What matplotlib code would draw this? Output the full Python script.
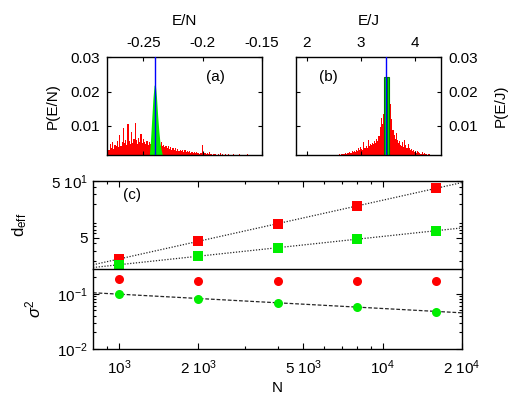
import matplotlib
matplotlib.use("Agg")
import matplotlib.pyplot as plt
import numpy as np
from matplotlib.ticker import FixedLocator, NullFormatter, LogLocator, FixedFormatter

plt.rcParams['font.family'] = ['Liberation Sans', 'DejaVu Sans']
plt.rcParams['mathtext.fontset'] = 'custom'
plt.rcParams['mathtext.rm'] = 'Liberation Sans'
plt.rcParams['mathtext.it'] = 'Liberation Sans:italic'
plt.rcParams['font.size'] = 11

# ---- panel (a): P(E/N) ----
en_start, en_bin = -0.280, 0.001
red_a = [0.0042, 0.0030, 0.0048, 0.0036, 0.0052, 0.0033, 0.0045, 0.0040, 0.0055, 0.0038,
         0.0072, 0.0041, 0.0052, 0.0095, 0.0049, 0.0060, 0.0044, 0.0105, 0.0056, 0.0047,
         0.0082, 0.0050, 0.0063, 0.0109, 0.0058, 0.0046, 0.0066, 0.0052, 0.0076, 0.0049,
         0.0061, 0.0054, 0.0048, 0.0057, 0.0045, 0.0052, 0.0047, 0.0050, 0.0044, 0.0046,
         0.0043, 0.0048, 0.0041, 0.0045, 0.0039, 0.0052, 0.0040, 0.0044, 0.0037, 0.0041,
         0.0036, 0.0042, 0.0033, 0.0038, 0.0031, 0.0035, 0.0029, 0.0034, 0.0028, 0.0032,
         0.0027, 0.0031, 0.0026, 0.0030, 0.0025, 0.0029, 0.0024, 0.0027, 0.0023, 0.0026,
         0.0022, 0.0025, 0.0021, 0.0024, 0.0020, 0.0023, 0.0021, 0.0019, 0.0022, 0.0020,
         0.0045, 0.0019, 0.0021, 0.0018, 0.0020, 0.0017, 0.0024, 0.0018, 0.0016, 0.0019,
         0.0017, 0.0019, 0.0016, 0.0018, 0.0015, 0.0021, 0.0016, 0.0017, 0.0015, 0.0018,
         0.0016, 0.0015, 0.0018, 0.0014, 0.0016, 0.0015, 0.0019, 0.0014, 0.0015, 0.0016,
         0.0014, 0.0017, 0.0015, 0.0014, 0.0016, 0.0013, 0.0015, 0.0014, 0.0018, 0.0013,
         0.0014, 0.0013, 0.0015, 0.0012, 0.0014, 0.0013, 0.0012, 0.0014, 0.0013, 0.0012]
green_a_start = -0.245
green_a = [0.0015, 0.006, 0.012, 0.018, 0.0218, 0.0222, 0.0185, 0.013, 0.0085, 0.005, 0.003, 0.0015]
mean_a = -0.2401

# ---- panel (b): P(E/J) ----
ej_start, ej_bin = 2.50, 0.02
red_b = [0.0012, 0.0014, 0.0013, 0.0016, 0.0015, 0.0017, 0.0016, 0.0018, 0.0017, 0.0019,
         0.0018, 0.0021, 0.0019, 0.0022, 0.0020, 0.0024, 0.0022, 0.0026, 0.0023, 0.0027,
         0.0025, 0.0029, 0.0027, 0.0034, 0.0030, 0.0038, 0.0033, 0.0029, 0.0052, 0.0036,
         0.0041, 0.0035, 0.0059, 0.0040, 0.0047, 0.0044, 0.0051, 0.0046, 0.0057, 0.0050,
         0.0062, 0.0055, 0.0071, 0.0098, 0.0124, 0.0105, 0.0135, 0.0118, 0.0110, 0.0090,
         0.0115, 0.0108, 0.0092, 0.0164, 0.0120, 0.0088, 0.0074, 0.0062, 0.0079, 0.0058,
         0.0050, 0.0056, 0.0045, 0.0041, 0.0052, 0.0038, 0.0059, 0.0043, 0.0035, 0.0047,
         0.0036, 0.0030, 0.0033, 0.0027, 0.0031, 0.0025, 0.0028, 0.0022, 0.0026, 0.0024,
         0.0021, 0.0019, 0.0023, 0.0018, 0.0020, 0.0017, 0.0019, 0.0016, 0.0018, 0.0017,
         0.0015, 0.0016, 0.0014, 0.0015, 0.0013, 0.0015, 0.0012, 0.0014, 0.0013, 0.0012]
green_b_left = [3.43, 3.48]
green_b_width = 0.05
green_b = [0.0242, 0.0242]
mean_b = 3.47

# ---- panel (c) ----
N = [1000, 2000, 4000, 8000, 16000]
deff_red = [2.11, 4.48, 8.75, 18.2, 37.5]
deff_green = [1.67, 2.44, 3.31, 4.80, 6.67]
sig_red = [0.187, 0.174, 0.172, 0.172, 0.172]
sig_green = [0.0988, 0.082, 0.0697, 0.0575, 0.0479]

RED = '#ff0000'
GREEN = '#00ee00'

fig = plt.figure(figsize=(5.18, 3.96), dpi=100)

def hist_axes(rect):
    ax = fig.add_axes(rect)
    ax.set_ylim(0.0015, 0.03)
    ax.set_yticks([0.01, 0.02, 0.03])
    ax.set_yticklabels(['0.01', '0.02', '0.03'])
    ax.xaxis.set_label_position('top')
    ax.tick_params(direction='in', top=True, bottom=True, left=True, right=True,
                   labeltop=True, labelbottom=False, length=3, width=0.8, pad=5)
    for s in ax.spines.values():
        s.set_linewidth(1.0)
    return ax

# (a)
ax = hist_axes([0.2071, 0.6086, 0.2986, 0.2467])
xa = en_start + en_bin * np.arange(len(red_a))
ax.bar(xa, red_a, width=en_bin, color=RED, linewidth=0, zorder=1)
xg = green_a_start + en_bin * np.arange(len(green_a))
ax.fill_between(xg, 0, green_a, color=GREEN, linewidth=0, zorder=2)
ax.axvline(mean_a, color='blue', lw=1.0, zorder=3)
ax.set_xlim(-0.2805, -0.15)
ax.set_xticks([-0.25, -0.2, -0.15])
ax.set_xticklabels(['-0.25', '-0.2', '-0.15'])
ax.set_xlabel('E/N', labelpad=8)
ax.set_ylabel('P(E/N)', labelpad=8)
ax.text(0.64, 0.76, '(a)', transform=ax.transAxes, fontsize=11)

# (b)
ax = hist_axes([0.5714, 0.6086, 0.2799, 0.2467])
xb = ej_start + ej_bin * np.arange(len(red_b))
ax.bar(xb, red_b, width=ej_bin, color=RED, linewidth=0, zorder=1)
ax.bar(green_b_left, green_b, width=green_b_width, align='edge', color=GREEN,
       edgecolor='#007a00', linewidth=0.8, zorder=2)
ax.axvline(mean_b, color='blue', lw=1.0, zorder=3)
ax.set_xlim(1.8, 4.49)
ax.set_xticks([2, 3, 4])
ax.set_xticklabels(['2', '3', '4'])
ax.set_xlabel('E/J', labelpad=8)
ax.yaxis.set_label_position('right')
ax.tick_params(labelleft=False, labelright=True)
ax.set_ylabel('P(E/J)', labelpad=12)
ax.text(0.16, 0.76, '(b)', transform=ax.transAxes, fontsize=11)

# (c) top: d_eff, bottom: sigma^2
xlim = (796, 20000)
ax1 = fig.add_axes([0.1795, 0.3207, 0.7124, 0.2222])
ax2 = fig.add_axes([0.1795, 0.1187, 0.7124, 0.2020])

for a in (ax1, ax2):
    a.set_xscale('log')
    a.set_yscale('log')
    a.set_xlim(*xlim)
    a.xaxis.set_major_locator(FixedLocator([1e3, 2e3, 5e3, 1e4, 2e4]))
    a.xaxis.set_minor_locator(FixedLocator([900, 3e3, 4e3, 6e3, 7e3, 8e3, 9e3]))
    a.xaxis.set_minor_formatter(NullFormatter())
    a.yaxis.set_minor_locator(LogLocator(base=10, subs=np.arange(2, 10)))
    a.yaxis.set_minor_formatter(NullFormatter())
    a.tick_params(which='both', direction='in', top=True, right=True, width=0.8)
    a.tick_params(which='major', length=4)
    a.tick_params(which='minor', length=2)
    for s in a.spines.values():
        s.set_linewidth(1.0)

# no ticks on the shared divider line
ax1.tick_params(which='both', bottom=False, labelbottom=False)
ax1.spines['bottom'].set_visible(False)
ax2.tick_params(which='both', top=False)
ax2.tick_params(axis='x', pad=7)

xfit = np.array(xlim)

def fit_line(a, y, ls):
    p = np.polyfit(np.log10(N), np.log10(y), 1)
    a.plot(xfit, 10 ** np.polyval(p, np.log10(xfit)), color='0.15', lw=0.9, ls=ls, zorder=1)

ax1.set_ylim(1.42, 50)
ax1.yaxis.set_major_locator(FixedLocator([5, 50]))
ax1.yaxis.set_major_formatter(FixedFormatter(['5', r'$5\ 10^1$']))
fit_line(ax1, deff_red, (0, (1, 1.3)))
fit_line(ax1, deff_green, (0, (1, 1.3)))
ax1.plot(N, deff_red, 's', color=RED, ms=7.5, mew=0, zorder=3)
ax1.plot(N, deff_green, 's', color=GREEN, ms=7.5, mew=0, zorder=3)
ax1.set_ylabel(r'd$_{\mathrm{eff}}$', fontsize=12, labelpad=16)
ax1.text(0.08, 0.80, '(c)', transform=ax1.transAxes, fontsize=11)

ax2.set_ylim(0.01, 0.283)
ax2.yaxis.set_major_locator(FixedLocator([0.01, 0.1]))
ax2.yaxis.set_major_formatter(FixedFormatter([r'$10^{-2}$', r'$10^{-1}$']))
ax2.xaxis.set_major_formatter(FixedFormatter([r'$10^3$', r'$2\ 10^3$', r'$5\ 10^3$',
                                              r'$10^4$', r'$2\ 10^4$']))
fit_line(ax2, sig_green, (0, (3, 1.5)))
ax2.plot(N, sig_red, 'o', color=RED, ms=6.5, mew=0, zorder=3)
ax2.plot(N, sig_green, 'o', color=GREEN, ms=6.5, mew=0, zorder=3)
ax2.set_ylabel(r'$\sigma^2$', fontsize=12, labelpad=10)
ax2.set_xlabel('N', labelpad=3)

fig.savefig('out.png', dpi=100)
